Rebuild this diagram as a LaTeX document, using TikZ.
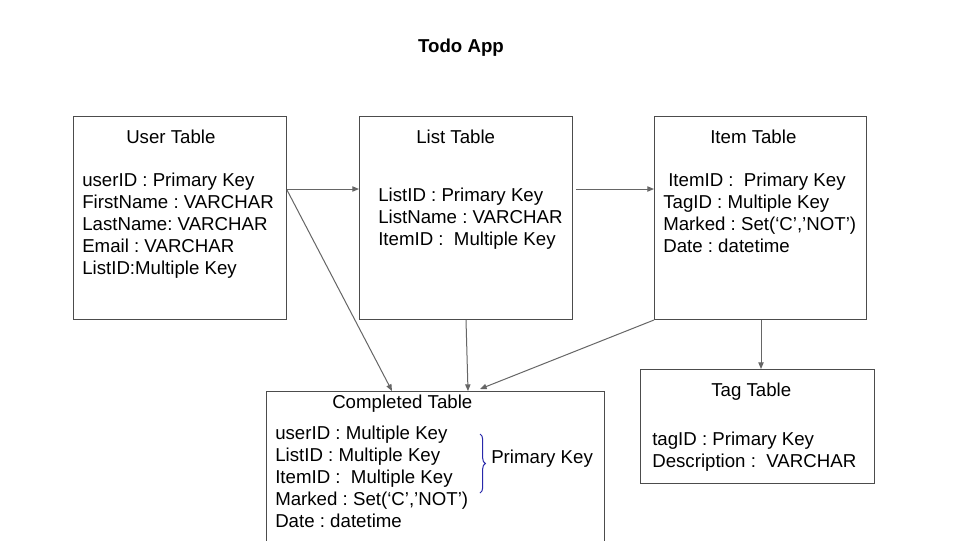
\documentclass[tikz,border=0pt]{standalone}
\usepackage{fontspec}
\setmainfont{Liberation Sans}
\usetikzlibrary{arrows.meta,calc,decorations.pathreplacing}
\frenchspacing

\tikzset{
	tbl/.style={draw=black!70, line width=0.75pt, rectangle, anchor=north west, inner sep=0pt},
	txt/.style={anchor=base west, inner sep=0pt, font=\fontsize{14pt}{16.5pt}\selectfont},
	link/.style={draw=black!60, line width=0.75pt, -{Triangle[length=5pt,width=4pt]}}
}

\begin{document}
\begin{tikzpicture}[x=0.75pt, y=-0.75pt]
	\clip (0,0) rectangle (960,540);
	\fill[white] (0,0) rectangle (960,540);

	\node[txt, anchor=base, font=\fontsize{14pt}{16.5pt}\selectfont\bfseries] (title) at (461,52) {Todo App};

	% tables
	\node[tbl, minimum width=159.75pt, minimum height=152.25pt] (user) at (73,116) {};
	\node[tbl, minimum width=159.75pt, minimum height=152.25pt] (list) at (359,116) {};
	\node[tbl, minimum width=159pt, minimum height=152.25pt] (item) at (654,116) {};
	\node[tbl, minimum width=175.5pt, minimum height=85.5pt] (tag) at (640,369) {};
	\node[tbl, minimum width=253.5pt, minimum height=120pt] (done) at (266,391) {};

	\node[txt] (userT) at (126,143) {User Table};
	\foreach \t [count=\i] in {userID : Primary Key, FirstName : VARCHAR, LastName: VARCHAR, Email : VARCHAR, ListID:Multiple Key}
		\node[txt] (u\i) at (82,164+22*\i) {\t};

	\node[txt] (listT) at (416,143) {List Table};
	\foreach \t [count=\i] in {ListID : Primary Key, ListName : VARCHAR, ItemID :\ \ Multiple Key}
		\node[txt] (l\i) at (378,179+22*\i) {\t};

	\node[txt] (itemT) at (710,143) {Item Table};
	\node[txt] (i1) at (668,186) {ItemID :\ \ Primary Key};
	\foreach \t [count=\i from 2] in {TagID : Multiple Key, {Marked : Set(‘C’,’NOT’)}, Date : datetime}
		\node[txt] (i\i) at (663,164+22*\i) {\t};

	\node[txt] (tagT) at (711,396) {Tag Table};
	\node[txt] (t1) at (652,445) {tagID : Primary Key};
	\node[txt] (t2) at (652,467) {Description :\ \ VARCHAR};

	\node[txt] (doneT) at (332,408) {Completed Table};
	\foreach \t [count=\i] in {userID : Multiple Key, ListID : Multiple Key, ItemID :\ \ Multiple Key, {Marked : Set(‘C’,’NOT’)}, Date : datetime}
		\node[txt] (c\i) at (275,417+22*\i) {\t};

	\draw[draw={rgb,255:red,40;green,40;blue,170}, line width=0.75pt, decorate, decoration={brace, amplitude=4pt}] (480,434) -- (480,493);
	\node[txt] (pk) at (491,463) {Primary Key};

	% links
	\draw[link] ($(user.north east)+(0,73)$) -- ($(list.north west)+(0,73)$);
	\draw[link] ($(list.north east)+(3,73)$) -- ($(item.north west)+(0,73)$);
	\draw[link] ($(user.north east)+(0,74)$) -- ($(done.north west)+(126,0)$);
	\draw[link] ($(list.south west)+(107,0)$) -- ($(done.north west)+(202,0)$);
	\draw[link] (item.south west) -- ($(done.north west)+(214,-2)$);
	\draw[link] ($(item.south west)+(107,0)$) -- ($(tag.north west)+(121,0)$);
\end{tikzpicture}
\end{document}
